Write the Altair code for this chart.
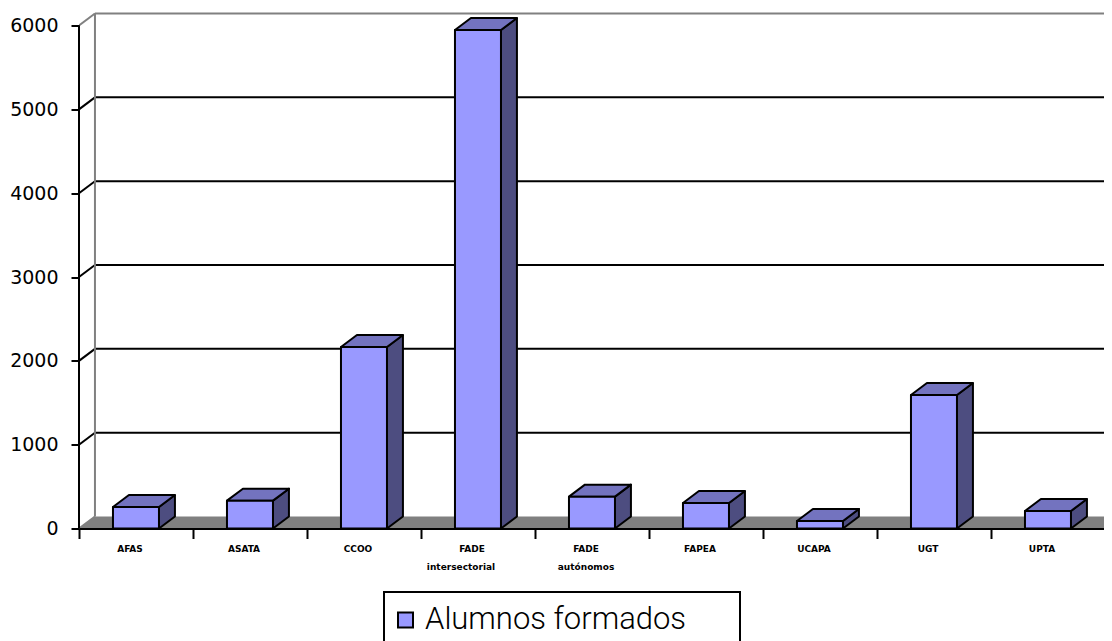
import altair as alt
import pandas as pd

# --- chart values ---
categories = ["AFAS", "ASATA", "CCOO", "FADE intersectorial", "FADE autónomos",
              "FAPEA", "UCAPA", "UGT", "UPTA"]
alumnos = [256, 332, 2165, 5946, 380, 304, 90, 1592, 209]
label_line1 = ["AFAS", "ASATA", "CCOO", "FADE", "FADE", "FAPEA", "UCAPA", "UGT", "UPTA"]
grid_levels = [1000, 2000, 3000, 4000, 5000]
top_level = [6000]
y_ticks = [0, 1000, 2000, 3000, 4000, 5000, 6000]
series_name = "Alumnos formados"

# --- pseudo-3D geometry, in axis units (1 x unit = one category) ---
BAR_START = 0.298
BAR_W = 0.4035
DEPTH_X = 0.14
DEPTH_Y = 143
N = len(categories)

FRONT = "#9999ff"
TOP = "#7373bf"
SIDE = "#4d4d80"
WALL = "#808080"

PLOT_W = 1025
xs = alt.Scale(domain=[0, PLOT_W / 114], nice=False, zero=False)
ys = alt.Scale(domain=[0, 6203], nice=False, zero=False)
X = lambda f="x": alt.X(f"{f}:Q", scale=xs, title=None,
                        axis=alt.Axis(values=list(range(N + 1)), labels=False, grid=False,
                                      tickSize=10, tickWidth=2, tickColor="black",
                                      domainColor="black", domainWidth=2, zindex=1))
Y = lambda f="y": alt.Y(f"{f}:Q", scale=ys, title=None,
                        axis=alt.Axis(values=y_ticks, format="d", domain=False, grid=False,
                                      tickSize=8, tickWidth=2, tickColor="black",
                                      labelFont="DejaVu Sans", labelFontSize=19,
                                      labelColor="black", labelPadding=13, zindex=1))

# floor
floor = pd.DataFrame({"y": [0, DEPTH_Y], "x": [0, DEPTH_X], "x2": [N, N + DEPTH_X]})
floor_l = alt.Chart(floor).mark_area(orient="horizontal", color=WALL, clip=True).encode(
    y=Y(), x=X(), x2="x2:Q")

# back wall and grid
def level_frame(levels):
    return pd.DataFrame({"y": levels, "yb": [v + DEPTH_Y for v in levels]})

def grid_layer(levels, color):
    d = level_frame(levels)
    back = alt.Chart(d).transform_calculate(x=f"{DEPTH_X}", x2=f"{N + DEPTH_X}").mark_rule(
        color=color, strokeWidth=2, clip=True).encode(x=X(), x2="x2:Q", y=Y("yb"))
    diag = alt.Chart(d).transform_calculate(x="0", x2=f"{DEPTH_X}").mark_rule(
        color=color, strokeWidth=2, clip=True).encode(x=X(), x2="x2:Q", y=Y(), y2="yb:Q")
    return [back, diag]

wall_v = alt.Chart(pd.DataFrame({"x": [DEPTH_X], "y": [DEPTH_Y], "y2": [top_level[0] + DEPTH_Y]})).mark_rule(
    color=WALL, strokeWidth=2).encode(x=X(), y=Y(), y2="y2:Q")
floor_diag = grid_layer([0], WALL)[1]
y_line = alt.Chart(pd.DataFrame({"x": [0], "y": [0], "y2": [top_level[0]]})).mark_rule(
    color="black", strokeWidth=2).encode(x=X(), y=Y(), y2="y2:Q")

# bars
rows_front, rows_side, rows_top = [], [], []
for i, (c, v) in enumerate(zip(categories, alumnos)):
    x0 = i + BAR_START
    x1 = x0 + BAR_W
    rows_front.append({"c": c, "x": x0, "x2": x1, "y": 0, "y2": v, "s": series_name})
    rows_side += [{"c": c, "x": x1, "y": v, "y2": 0},
                  {"c": c, "x": x1 + DEPTH_X, "y": v + DEPTH_Y, "y2": DEPTH_Y}]
    rows_top += [{"c": c, "y": v, "x": x0, "x2": x1},
                 {"c": c, "y": v + DEPTH_Y, "x": x0 + DEPTH_X, "x2": x1 + DEPTH_X}]

side = alt.Chart(pd.DataFrame(rows_side)).mark_area(
    orient="vertical", fill=SIDE, stroke="black", strokeWidth=2, strokeJoin="round").encode(
    x=X(), y=Y(), y2="y2:Q", detail="c:N")
top = alt.Chart(pd.DataFrame(rows_top)).mark_area(
    orient="horizontal", fill=TOP, stroke="black", strokeWidth=2, strokeJoin="round").encode(
    y=Y(), x=X(), x2="x2:Q", detail="c:N")
front = alt.Chart(pd.DataFrame(rows_front)).mark_bar(
    stroke="black", strokeWidth=2, strokeJoin="round").encode(
    x=X(), x2="x2:Q", y=Y(), y2="y2:Q",
    fill=alt.Fill("s:N", scale=alt.Scale(domain=[series_name], range=[FRONT]), legend=alt.Legend(
        orient="none", legendX=311, legendY=596, title=None, symbolType="square",
        symbolSize=225, symbolStrokeColor="black", symbolStrokeWidth=2, symbolOpacity=1,
        padding=0, labelFont="Roboto", labelFontWeight=300,
        labelFontSize=31, labelColor="black", labelLimit=600, labelOffset=4)))

# legend frame (open at the bottom of the page, as in the reference)
frame = alt.Chart(pd.DataFrame({"k": [series_name]})).mark_rect(
    fill="white", stroke="black", strokeWidth=2).encode(
    x=alt.value(305), x2=alt.value(661), y=alt.value(583.5), y2=alt.value(650))

# category labels
lab = pd.DataFrame({"x": [i + 0.5 for i in range(N)], "l1": label_line1})
def label_layer(d, field, ypx, dx):
    return alt.Chart(d).mark_text(font="DejaVu Sans", fontWeight="bold", fontSize=9, color="black",
                                  dx=dx, baseline="middle").encode(
        x=X(), y=alt.value(ypx), text=f"{field}:N")
l1 = label_layer(lab, "l1", 540.5, -6)
l2a = label_layer(pd.DataFrame({"x": [3.5], "l2": ["intersectorial"]}), "l2", 558.5, -17)
l2b = label_layer(pd.DataFrame({"x": [4.5], "l2": ["autónomos"]}), "l2", 558.5, -6)

chart = alt.layer(
    floor_l, *grid_layer(grid_levels, "black"), *grid_layer(top_level, WALL),
    wall_v, floor_diag, y_line, side, top, front, l1, l2a, l2b, frame
).properties(
    width=PLOT_W, height=520,
    autosize=alt.AutoSizeParams(type="none"),
    padding={"left": 71, "top": 0.5, "right": 0, "bottom": 112.5},
).configure_view(stroke=None)

chart.save("out.html", embed_options={"renderer": "svg", "actions": False})
